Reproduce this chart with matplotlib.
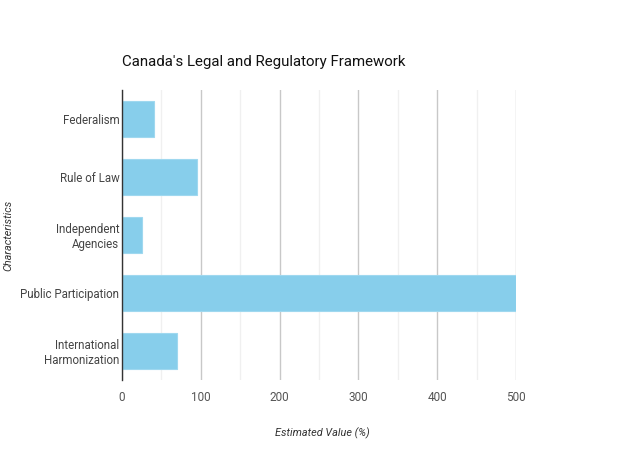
import matplotlib.pyplot as plt
from matplotlib.ticker import MultipleLocator

plt.rcParams['font.family'] = ['Roboto', 'DejaVu Sans']

categories = ["Federalism", "Rule of Law", "Independent\nAgencies",
              "Public Participation", "International\nHarmonization"]
values = [40, 95, 25, 500, 70]

fig = plt.figure(figsize=(6.39, 4.70), dpi=100)
ax = fig.add_axes([0.191, 0.1915, 0.6165, 0.617])

pos = list(range(len(categories)))
ax.barh(pos, values, height=0.62, color="#87CEEB", edgecolor="#9fd8ef", linewidth=0.8, zorder=3)
ax.set_yticks(pos)
ax.set_yticklabels(categories, fontsize=8.3, color="#444444")
ax.set_ylim(len(categories) - 0.5, -0.5)

ax.set_xlim(0, 500)
ax.xaxis.set_major_locator(MultipleLocator(100))
ax.xaxis.set_minor_locator(MultipleLocator(50))
ax.grid(axis='x', which='major', color="#c8c8c8", linewidth=1, zorder=0)
ax.grid(axis='x', which='minor', color="#f0f0f0", linewidth=1, zorder=0)
ax.tick_params(axis='x', which='both', length=0, labelsize=8.5, labelcolor="#555555", pad=8)
ax.tick_params(axis='y', length=0, pad=2)

for s in ['top', 'right', 'bottom']:
    ax.spines[s].set_visible(False)
ax.spines['left'].set_color("#333333")
ax.spines['left'].set_linewidth(1)
ax.spines['left'].set_zorder(4)

fig.text(0.191, 0.868, "Canada's Legal and Regulatory Framework", fontsize=10.8,
         color="#111111", ha='left', va='center')
fig.text(0.504, 0.078, "Estimated Value (%)", fontsize=7.8, style='italic',
         color="#333333", ha='center', va='center')
fig.text(0.013, 0.5, "Characteristics", fontsize=7.8, style='italic',
         color="#333333", ha='center', va='center', rotation=90)

fig.savefig("out.png", dpi=100)
